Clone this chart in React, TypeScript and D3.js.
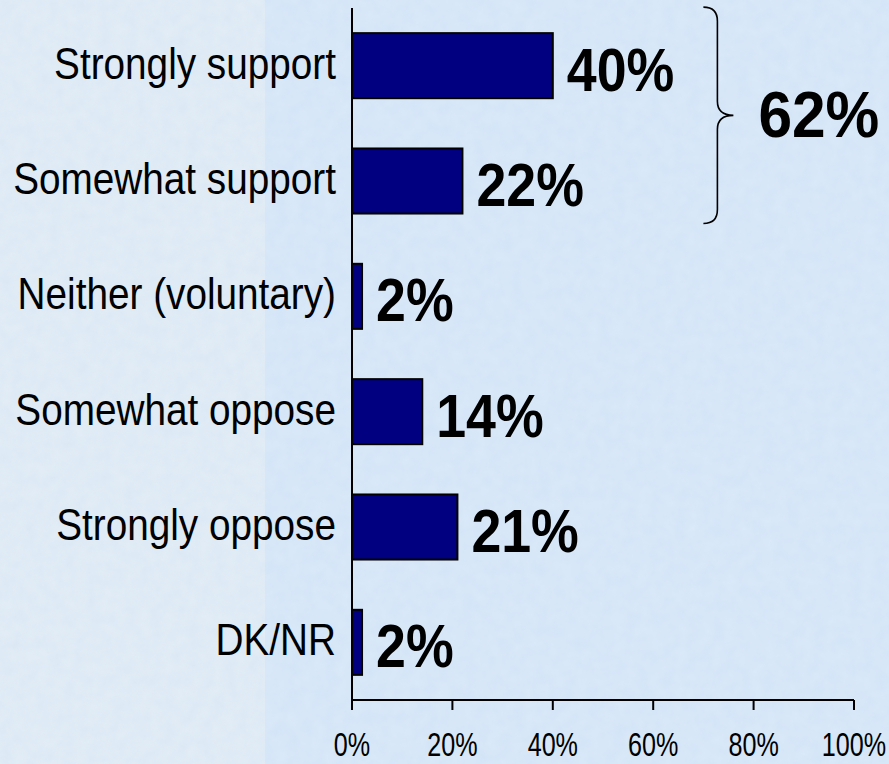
import React from "react";
import * as d3 from "d3";

const categories = [
  "Strongly support",
  "Somewhat support",
  "Neither (voluntary)",
  "Somewhat oppose",
  "Strongly oppose",
  "DK/NR",
];
const values = [40, 22, 2, 14, 21, 2];
const tickValues = [0, 20, 40, 60, 80, 100];
const braceLabel = "62%";
const bracedCategories = ["Strongly support", "Somewhat support"];

const W = 889;
const H = 764;

export default function App() {
  const x = d3.scaleLinear().domain([0, 100]).range([352, 854]);
  const y = d3
    .scaleBand<string>()
    .domain(categories)
    .range([8, 700])
    .paddingInner(0.436)
    .paddingOuter(0.218);
  const bw = y.bandwidth();
  const axisY = 700;

  const bTop = (y(bracedCategories[0]) as number) - 26;
  const bBot = (y(bracedCategories[1]) as number) + bw + 10;
  const bMid = (bTop + bBot) / 2;
  const x0 = x(70);
  const xm = x0 + 14;
  const xt = x0 + 30;
  const r = 14;
  const bracePath = `M${x0},${bTop} Q${xm},${bTop} ${xm},${bTop + r} L${xm},${bMid - r} Q${xm},${bMid} ${xt},${bMid} Q${xm},${bMid} ${xm},${bMid + r} L${xm},${bBot - r} Q${xm},${bBot} ${x0},${bBot}`;

  return (
    <svg
      width={W}
      height={H}
      style={{ position: "absolute", left: 0, top: 0 }}
      fontFamily="Liberation Sans, Arial, sans-serif"
    >
      <defs>
        <filter id="tex" x="0" y="0" width="100%" height="100%">
          <feTurbulence type="fractalNoise" baseFrequency="0.08" numOctaves="3" seed="4" />
          <feColorMatrix
            type="matrix"
            values="0 0 0 0 1  0 0 0 0 1  0 0 0 0 1  0 0 0 0.35 0"
          />
        </filter>
      </defs>
      <rect x={0} y={0} width={W} height={H} fill="#d2e4f7" />
      <rect x={0} y={0} width={265} height={H} fill="#dbe8f4" />
      <rect x={0} y={0} width={W} height={H} filter="url(#tex)" opacity={0.6} />

      {/* bars */}
      {categories.map((c, i) => (
        <rect
          key={c}
          x={x(0)}
          y={y(c)}
          width={x(values[i]) - x(0)}
          height={bw}
          fill="#000080"
          stroke="#000"
          strokeWidth={2}
        />
      ))}

      {/* category labels */}
      {categories.map((c) => (
        <text
          key={c}
          transform={`translate(336,${(y(c) as number) + bw / 2 + 13}) scale(0.88,1)`}
          textAnchor="end"
          fontSize={44}
          fill="#000"
        >
          {c}
        </text>
      ))}

      {/* value labels */}
      {categories.map((c, i) => (
        <text
          key={c}
          transform={`translate(${x(values[i]) + 14},${(y(c) as number) + bw / 2 + 25}) scale(0.88,1)`}
          fontSize={61}
          fontWeight="bold"
          fill="#000"
        >
          {values[i]}%
        </text>
      ))}

      {/* axes */}
      <line x1={x(0)} x2={x(0)} y1={8} y2={axisY} stroke="#000" strokeWidth={2} />
      <line x1={x(0)} x2={x(100)} y1={axisY} y2={axisY} stroke="#000" strokeWidth={2} />
      {tickValues.map((t) => (
        <g key={t}>
          <line x1={x(t)} x2={x(t)} y1={axisY} y2={axisY + 10} stroke="#000" strokeWidth={2} />
          <text
            transform={`translate(${x(t)},756) scale(0.74,1)`}
            textAnchor="middle"
            fontSize={34}
            fill="#000"
          >
            {t}%
          </text>
        </g>
      ))}

      {/* brace */}
      <path d={bracePath} fill="none" stroke="#000" strokeWidth={1.6} />
      <text
        transform={`translate(${xt + 25},${bMid + 22}) scale(0.93,1)`}
        fontSize={65}
        fontWeight="bold"
        fill="#000"
      >
        {braceLabel}
      </text>
    </svg>
  );
}
